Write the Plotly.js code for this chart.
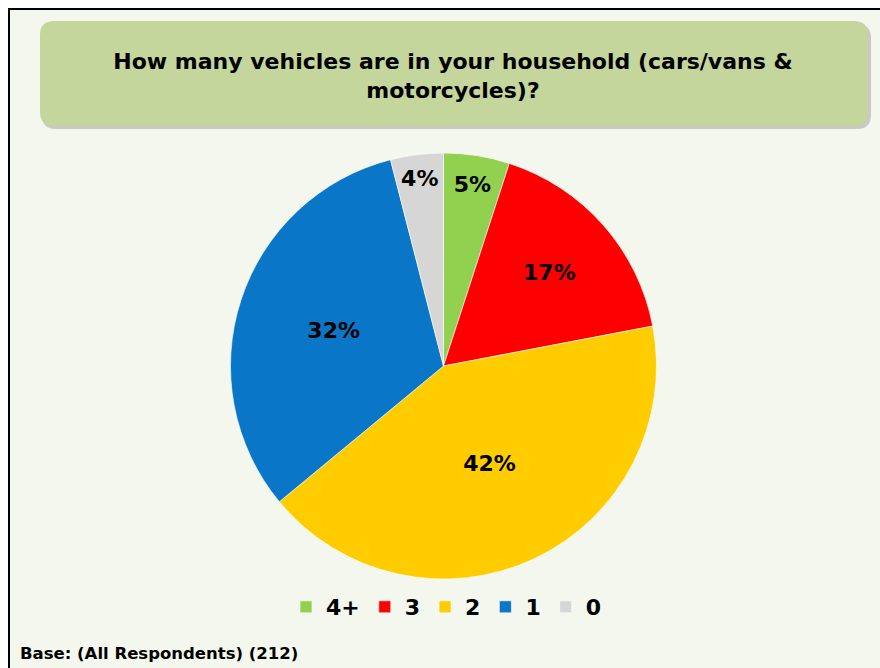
<!DOCTYPE html>
<html>
<head>
<meta charset="utf-8">
<script src="https://cdn.plot.ly/plotly-3.0.1.min.js"></script>
<style>html,body{margin:0;padding:0;background:#fff;}#chart{width:880px;height:668px;}</style>
</head>
<body>
<div id="chart"></div>
<script>
const categories = ["4+", "3", "2", "1", "0"];
const shares = [5, 17, 42, 32, 4];
const sliceColors = ["#92d050", "#ff0000", "#ffcc00", "#0a76c8", "#d6d6d6"];
const chartTitle = "How many vehicles are in your household (cars/vans &<br>motorcycles)?";
const footnote = "Base: (All Respondents) (212)";

const W = 880, H = 668;
const px = x => x / W;
const py = y => 1 - y / H;
const FONT = "DejaVu Sans, Verdana, sans-serif";

function roundRect(x0, y0, x1, y1, r) {
  const X0 = px(x0), X1 = px(x1), Y0 = py(y0), Y1 = py(y1);
  const rx = r / W, ry = r / H;
  return `M${X0 + rx},${Y0} L${X1 - rx},${Y0} Q${X1},${Y0} ${X1},${Y0 - ry} L${X1},${Y1 + ry} Q${X1},${Y1} ${X1 - rx},${Y1} L${X0 + rx},${Y1} Q${X0},${Y1} ${X0},${Y1 + ry} L${X0},${Y0 - ry} Q${X0},${Y0} ${X0 + rx},${Y0} Z`;
}

const trace = {
  type: "pie",
  labels: categories,
  values: shares,
  sort: false,
  direction: "clockwise",
  rotation: 0,
  marker: { colors: sliceColors, line: { color: "rgba(255,255,255,0.6)", width: 1 } },
  textinfo: "percent",
  texttemplate: "%{percent:.0%}",
  textposition: "inside",
  insidetextorientation: "horizontal",
  textfont: { family: FONT, size: 22, color: "#000", weight: "bold" },
  domain: { x: [px(230.5), px(656.5)], y: [py(579), py(153)] },
  hoverinfo: "label+percent"
};

const layout = {
  width: W, height: H,
  margin: { l: 0, r: 0, t: 0, b: 0 },
  paper_bgcolor: "#ffffff",
  showlegend: true,
  title: {
    text: chartTitle,
    font: { family: FONT, size: 22, color: "#000", weight: "bold" },
    x: px(453), xanchor: "center",
    y: py(69), yanchor: "middle", yref: "container"
  },
  legend: {
    orientation: "h",
    x: px(446), xanchor: "center",
    y: py(607), yanchor: "middle",
    font: { family: FONT, size: 22, color: "#000", weight: "bold" },
    bgcolor: "rgba(0,0,0,0)",
    itemwidth: 30,
    traceorder: "normal"
  },
  shapes: [
    { type: "rect", xref: "paper", yref: "paper", x0: px(9), x1: px(900), y0: py(9), y1: py(700),
      fillcolor: "#f4f7ee", line: { color: "#000", width: 2 }, layer: "below" },
    { type: "path", xref: "paper", yref: "paper", path: roundRect(42, 24, 871, 129, 14),
      fillcolor: "rgba(0,0,0,0.18)", line: { width: 0 }, layer: "below" },
    { type: "path", xref: "paper", yref: "paper", path: roundRect(40, 21, 868, 126, 14),
      fillcolor: "#c4d69c", line: { width: 0 }, layer: "below" }
  ],
  annotations: [
    { text: footnote, xref: "paper", yref: "paper", x: px(18), y: py(653), xanchor: "left", yanchor: "middle",
      showarrow: false, font: { family: FONT, size: 16.5, color: "#000", weight: "bold" } }
  ]
};

Plotly.newPlot("chart", [trace], layout, { displayModeBar: false, staticPlot: true });
</script>
</body>
</html>
